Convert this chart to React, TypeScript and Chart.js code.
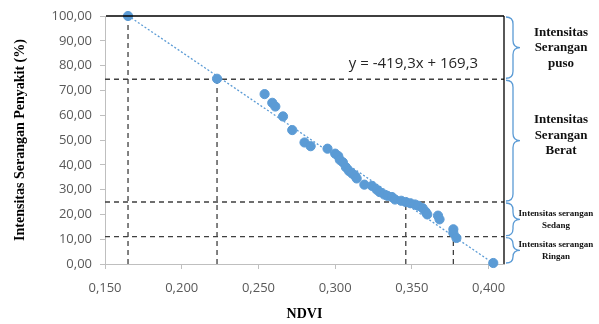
import React, { useEffect, useRef } from 'react';
import { Chart, registerables } from 'chart.js';

Chart.register(...registerables);

// Observed data: NDVI vs disease attack intensity (%)
const ndvi = [
  0.165, 0.223, 0.254, 0.259, 0.261, 0.266, 0.272, 0.280, 0.284, 0.295,
  0.300, 0.302, 0.303, 0.305, 0.307, 0.309, 0.311, 0.313, 0.314, 0.319,
  0.324, 0.327, 0.329, 0.332, 0.334, 0.337, 0.339, 0.343, 0.346, 0.349,
  0.352, 0.354, 0.357, 0.359, 0.360, 0.367, 0.368, 0.377, 0.377, 0.379,
  0.403,
];
const intensity = [
  100, 74.7, 68.5, 65, 63.5, 59.5, 54, 49, 47.5, 46.5,
  44.5, 43.5, 42, 41, 39, 37.5, 36.5, 35.5, 34.5, 32,
  31.5, 30, 29, 28, 27.5, 27, 26, 25.5, 25, 24.5,
  24, 23.5, 22.5, 21, 20, 19.5, 18, 14, 12.5, 10.5,
  0.4,
];

// Regression line y = -419.3x + 169.3
const slope = -419.3;
const intercept = 169.3;
const trendRange = [0.165, 0.4037];
const equationText = 'y = -419,3x + 169,3';

// Axis ticks
const xTicks = [0.15, 0.2, 0.25, 0.3, 0.35, 0.4];
const yTicks = [0, 10, 20, 30, 40, 50, 60, 70, 80, 90, 100];
const xMin = 0.15;
const xMax = 0.41;

// Class boundaries (intensity %) and guide lines
const classBounds = [100, 74.5, 25, 11, 0];
const guideX = [0.165, 0.223, 0.346, 0.377];
const guideY = [100, 74.5, 25, 11];
const classLabels = [
  ['Intensitas', 'Serangan', 'puso'],
  ['Intensitas', 'Serangan', 'Berat'],
  ['Intensitas serangan', 'Sedang'],
  ['Intensitas serangan', 'Ringan'],
];

const BLUE = '#5b9bd5';
const GUIDE = '#3f3f3f';

function drawBrace(ctx: CanvasRenderingContext2D, x: number, y1: number, y2: number, w: number) {
  const ym = (y1 + y2) / 2;
  const r = Math.min(7, (y2 - y1) / 4);
  const xm = x + w / 2;
  ctx.beginPath();
  ctx.moveTo(x, y1);
  ctx.quadraticCurveTo(xm, y1, xm, y1 + r);
  ctx.lineTo(xm, ym - r);
  ctx.quadraticCurveTo(xm, ym, x + w, ym);
  ctx.quadraticCurveTo(xm, ym, xm, ym + r);
  ctx.lineTo(xm, y2 - r);
  ctx.quadraticCurveTo(xm, y2, x, y2);
  ctx.stroke();
}

const decorPlugin = {
  id: 'decor',
  afterDatasetsDraw(chart: any) {
    const { ctx, chartArea, scales } = chart;
    const xs = scales.x;
    const ys = scales.y;
    ctx.save();
    // frame top and right (black)
    ctx.strokeStyle = '#000';
    ctx.lineWidth = 1.3;
    ctx.beginPath();
    ctx.moveTo(chartArea.left + 1, ys.getPixelForValue(100));
    ctx.lineTo(chartArea.right, ys.getPixelForValue(100));
    ctx.moveTo(chartArea.right, ys.getPixelForValue(100));
    ctx.lineTo(chartArea.right, ys.getPixelForValue(0));
    ctx.stroke();

    // equation
    ctx.fillStyle = '#262626';
    ctx.font = "15px 'Open Sans'";
    ctx.textAlign = 'center';
    ctx.textBaseline = 'middle';
    ctx.fillText(equationText, xs.getPixelForValue(0.351), ys.getPixelForValue(80.8));

    // braces
    ctx.strokeStyle = BLUE;
    ctx.lineWidth = 1.3;
    const bx = chartArea.right + 2;
    for (let i = 0; i < classBounds.length - 1; i++) {
      const y1 = ys.getPixelForValue(classBounds[i]) + 1;
      const y2 = ys.getPixelForValue(classBounds[i + 1]) - 1;
      drawBrace(ctx, bx, y1, y2, 14);
    }

    // labels
    ctx.fillStyle = '#111';
    for (let i = 0; i < classLabels.length; i++) {
      const lines = classLabels[i];
      const big = lines.length === 3;
      const y1 = ys.getPixelForValue(classBounds[i]);
      const y2 = ys.getPixelForValue(classBounds[i + 1]);
      const cy = big ? (i === 0 ? y1 + 32 : y1 + 56) : (y1 + y2) / 2;
      const lh = big ? 15.5 : 12;
      ctx.font = big ? "bold 13px 'Liberation Serif'" : "bold 9px 'Liberation Serif'";
      const cx = big ? chartArea.right + 57 : chartArea.right + 52;
      lines.forEach((t, k) => {
        ctx.fillText(t, cx, cy + (k - (lines.length - 1) / 2) * lh);
      });
    }
    ctx.restore();
  },
};

export default function App() {
  const ref = useRef<HTMLCanvasElement | null>(null);

  useEffect(() => {
    if (!ref.current) return;
    const points = ndvi.map((x, i) => ({ x, y: intensity[i] }));
    const trend = trendRange.map((x) => ({ x, y: slope * x + intercept }));
    const hGuides = guideY.slice(1).map((y) => ({
      type: 'line' as const,
      data: [{ x: xMin, y }, { x: xMax, y }],
      borderColor: GUIDE,
      borderWidth: 1.3,
      borderDash: [5, 4],
      pointRadius: 0,
      showLine: true,
      clip: false,
    }));
    const vGuides = guideX.map((x, i) => ({
      type: 'line' as const,
      data: [{ x, y: 0 }, { x, y: guideY[i] }],
      borderColor: GUIDE,
      borderWidth: 1.3,
      borderDash: [5, 4],
      pointRadius: 0,
      showLine: true,
      clip: false,
    }));

    const chart = new Chart(ref.current, {
      type: 'scatter',
      data: {
        datasets: [
          {
            data: points,
            backgroundColor: BLUE,
            borderColor: BLUE,
            pointRadius: 4.6,
            pointHoverRadius: 4.6,
            clip: false,
          } as any,
          {
            type: 'line',
            data: trend,
            borderColor: BLUE,
            borderWidth: 1.3,
            borderDash: [2, 2],
            pointRadius: 0,
            showLine: true,
            clip: false,
          } as any,
          ...(hGuides as any[]),
          ...(vGuides as any[]),
        ],
      },
      options: {
        responsive: false,
        animation: false,
        layout: { padding: { top: 16, right: 95, left: 0, bottom: 0 } },
        plugins: { legend: { display: false }, tooltip: { enabled: false } },
        scales: {
          x: {
            type: 'linear',
            min: xMin,
            max: xMax,
            afterBuildTicks: (s: any) => {
              s.ticks = xTicks.map((v) => ({ value: v }));
            },
            afterFit: (s: any) => {
              s.height = 60;
            },
            ticks: {
              color: '#595959',
              font: { family: "'Open Sans'", size: 13 },
              padding: 11,
              maxRotation: 0,
              callback: (v: any) => Number(v).toFixed(3).replace('.', ','),
            },
            grid: { display: true, drawOnChartArea: false, drawTicks: true, tickLength: 5, color: '#bfbfbf' },
            border: { color: '#bfbfbf' },
            title: {
              display: true,
              text: 'NDVI',
              color: '#000',
              font: { family: "'Liberation Serif'", size: 14, weight: 'bold' },
              padding: { top: 0, bottom: 1 },
            },
          },
          y: {
            type: 'linear',
            min: 0,
            max: 100,
            afterBuildTicks: (s: any) => {
              s.ticks = yTicks.map((v) => ({ value: v }));
            },
            afterFit: (s: any) => {
              s.width = 105;
            },
            ticks: {
              color: '#595959',
              font: { family: "'Open Sans'", size: 13 },
              padding: 8,
              callback: (v: any) => Number(v).toFixed(2).replace('.', ','),
            },
            grid: { display: true, drawOnChartArea: false, drawTicks: true, tickLength: 5, color: '#bfbfbf' },
            border: { color: '#bfbfbf' },
            title: {
              display: true,
              text: 'Intensitas Serangan Penyakit (%)',
              color: '#000',
              font: { family: "'Liberation Serif'", size: 14, weight: 'bold' },
              padding: { top: 12, bottom: 0 },
            },
          },
        },
      },
      plugins: [decorPlugin],
    });
    return () => chart.destroy();
  }, []);

  return (
    <div style={{ position: 'fixed', left: 0, top: 0, width: 599, height: 324, background: '#fff' }}>
      <canvas ref={ref} width={599} height={324} style={{ display: 'block' }} />
    </div>
  );
}
